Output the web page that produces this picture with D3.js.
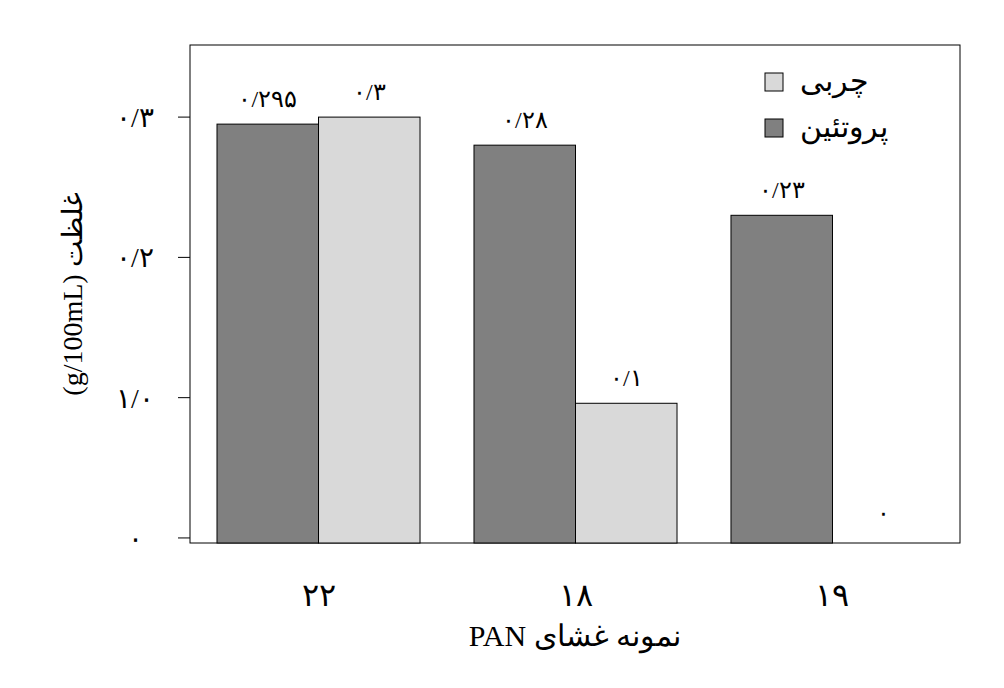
<!DOCTYPE html>
<html><head><meta charset="utf-8">
<script src="https://cdn.jsdelivr.net/npm/d3@7"></script>
<style>body{margin:0;background:#fff}text{font-family:"Liberation Serif","DejaVu Serif",serif;fill:#000}</style>
</head><body><svg id="c" width="1004" height="688"></svg>
<script>
const categories = ["۲۲","۱۸","۱۹"];
const protein = [0.295, 0.28, 0.23];
const fat = [0.3, 0.096, 0];
const proteinLabels = ["۰/۲۹۵","۰/۲۸","۰/۲۳"];
const fatLabels = ["۰/۳","۰/۱","۰"];
const yTicks = [0, 0.1, 0.2, 0.3];
const yTickLabels = ["۰","۱/۰","۰/۲","۰/۳"];
const seriesNames = ["چربی","پروتئین"];
const colors = {protein:"#808080", fat:"#d9d9d9"};

const svg = d3.select("#c");
const L=190,R=960,T=45,B=543;
const y = d3.scaleLinear().domain([-0.0036,0.3514]).range([B,T]);
const x = d3.scaleBand().domain(categories).range([217,934]).paddingInner(0.21).paddingOuter(0);
const sub = d3.scaleBand().domain(["protein","fat"]).range([0,x.bandwidth()]);

svg.append("rect").attr("x",L).attr("y",T).attr("width",R-L).attr("height",B-T).attr("fill","none").attr("stroke","#000");

categories.forEach((c,i)=>{
  const gg = svg.append("g").attr("transform",`translate(${x(c)},0)`);
  [["protein",protein[i],proteinLabels[i]],["fat",fat[i],fatLabels[i]]].forEach(([k,v,lab])=>{
    if(v>0) gg.append("rect").attr("x",sub(k)).attr("y",y(v)).attr("width",sub.bandwidth()).attr("height",B-y(v))
      .attr("fill",colors[k]).attr("stroke","#000").attr("stroke-width",1);
    gg.append("text").attr("x",sub(k)+sub.bandwidth()/2).attr("y",y(v)-17).attr("text-anchor","middle")
      .attr("font-size",24).text(lab);
  });
  svg.append("text").attr("x",x(c)+x.bandwidth()/2).attr("y",606).attr("text-anchor","middle").attr("font-size",32).text(c);
});

yTicks.forEach((t,i)=>{
  svg.append("line").attr("x1",L-12).attr("x2",L).attr("y1",y(t)).attr("y2",y(t)).attr("stroke","#000");
  svg.append("text").attr("x",135).attr("y",y(t)+10).attr("text-anchor","middle").attr("font-size",28).text(yTickLabels[i]);
});

svg.append("text").attr("transform","translate(82,294) rotate(-90)").attr("text-anchor","middle").attr("font-size",28)
  .attr("direction","rtl").text("غلظت (g/100mL)");
svg.append("text").attr("x",575).attr("y",646).attr("text-anchor","middle").attr("font-size",30).attr("direction","rtl").text("نمونه غشای PAN");

[[seriesNames[0],colors.fat,82],[seriesNames[1],colors.protein,128]].forEach(([n,c,yy])=>{
  svg.append("rect").attr("x",765).attr("y",yy-9).attr("width",18).attr("height",18).attr("fill",c).attr("stroke","#000");
  svg.append("text").attr("x",800).attr("y",yy+9).attr("font-size",30).attr("direction","rtl").attr("text-anchor","end").text(n);
});
</script></body></html>
